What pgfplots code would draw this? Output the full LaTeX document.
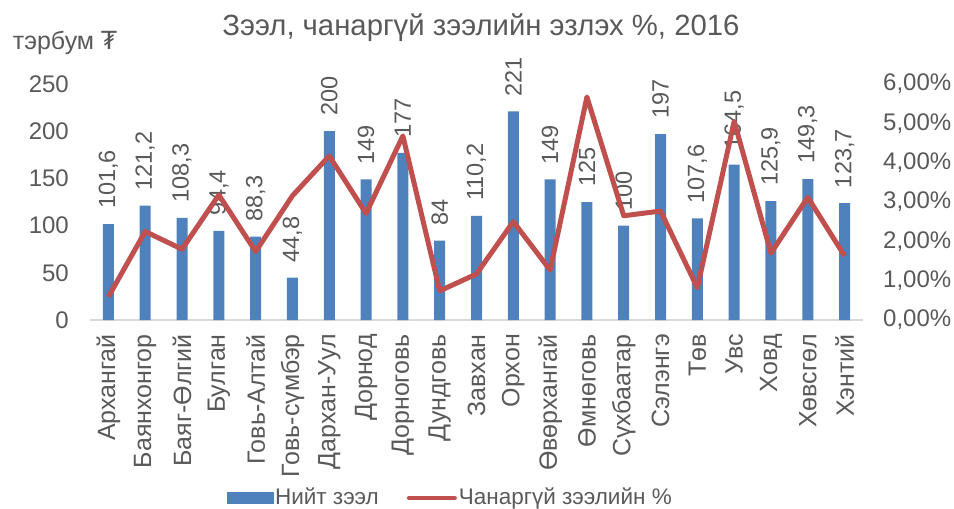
\documentclass[border=0pt]{standalone}
\usepackage{pgfplots}
\pgfplotsset{compat=1.18}
\usepackage{fontspec}
\setmainfont{Liberation Sans}
\newfontfamily\dejavu{DejaVu Sans}

\definecolor{barblue}{HTML}{4F81BD}
\definecolor{linered}{HTML}{C0504D}
\definecolor{txtgray}{HTML}{595959}
\definecolor{axgray}{HTML}{D9D9D9}

\begin{document}
\fontsize{23}{27}\selectfont
\begin{tikzpicture}
\path[use as bounding box] (0,0) rectangle (954pt,509pt);

% loans, bn MNT
\begin{axis}[
    at={(90pt,189pt)}, anchor=south west,
    scale only axis, width=773pt, height=236pt,
    xmin=-0.5, xmax=20.5, ymin=0, ymax=250,
    ytick={0,50,...,250},
    xtick={0,...,20},
    xticklabels={Архангай,Баянхонгор,Баяг-Өлгий,Булган,Говь-Алтай,Говь-сүмбэр,Дархан-Уул,Дорнод,Дорноговь,Дундговь,Завхан,Орхон,Өвөрхангай,Өмнөговь,Сүхбаатар,Сэлэнгэ,Төв,Увс,Ховд,Хөвсгөл,Хэнтий},
    xticklabel style={rotate=90, anchor=east, inner xsep=14pt, text=txtgray, font=\fontsize{25}{29}\selectfont},
    yticklabel style={anchor=east, inner xsep=21pt, text=txtgray, font=\fontsize{24}{28}\selectfont},
    /pgf/number format/assume math mode=true,
    major tick length=0pt,
    axis y line*=left, y axis line style={draw=none},
    axis x line*=bottom,
    x axis line style={draw=axgray, line width=1.5pt, -},
    ybar, bar width=11pt,
    nodes near coords,
    /pgf/number format/use comma,
    every node near coord/.append style={rotate=90, anchor=west, inner xsep=15pt, text=txtgray, font=\fontsize{23.5}{27}\selectfont},
    clip=false,
]
\addplot[fill=barblue, draw=none] coordinates {
    (0,101.6) (1,121.2) (2,108.3) (3,94.4) (4,88.3) (5,44.8) (6,200)
    (7,149) (8,177) (9,84) (10,110.2) (11,221) (12,149) (13,125)
    (14,100) (15,197) (16,107.6) (17,164.5) (18,125.9) (19,149.3) (20,123.7)
};
\end{axis}
\node[txtgray, anchor=west, font=\fontsize{25}{29}\selectfont] at (5pt,466pt) {тэрбум {\dejavu ₮}};
\node[txtgray, font=\fontsize{29.3}{33}\selectfont] at (481pt,481pt) {Зээл, чанаргүй зээлийн эзлэх \%, 2016};

% non-performing loan share, %
\begin{axis}[
    at={(90pt,189pt)}, anchor=south west,
    scale only axis, width=773pt, height=236pt,
    xmin=-0.5, xmax=20.5, ymin=0, ymax=6,
    ytick={0,1,...,6},
    yticklabel={\pgfmathprintnumber[fixed,fixed zerofill,precision=2,use comma,assume math mode=true]{\tick}\%},
    yticklabel style={anchor=west, inner xsep=20pt, text=txtgray, font=\fontsize{24}{28}\selectfont},
    axis y line*=right, y axis line style={draw=none},
    axis x line=none,
    major tick length=0pt,
    legend style={at={(0.466,-0.754)}, anchor=center, draw=none, fill=none,
        legend columns=2, font=\fontsize{22.5}{26}\selectfont, text=txtgray,
        /tikz/every even column/.append style={column sep=26pt},
        inner sep=0pt},
    legend cell align=left,
]
\addlegendimage{legend image code/.code={\fill[barblue] (0pt,-5.5pt) rectangle (46pt,5.5pt);}}
\addlegendentry{Нийт зээл}
\addplot[linered, line width=5pt, line join=round, mark=none,
    legend image code/.code={\draw[linered, line width=4pt, line cap=round] (2pt,0pt) -- (48pt,0pt);}]
coordinates {
    (0,0.59) (1,2.25) (2,1.80) (3,3.18) (4,1.74) (5,3.16) (6,4.17)
    (7,2.71) (8,4.68) (9,0.74) (10,1.17) (11,2.50) (12,1.27) (13,5.67)
    (14,2.65) (15,2.77) (16,0.82) (17,5.05) (18,1.70) (19,3.12) (20,1.63)
};
\addlegendentry{Чанаргүй зээлийн \%}
\end{axis}
\end{tikzpicture}
\end{document}
